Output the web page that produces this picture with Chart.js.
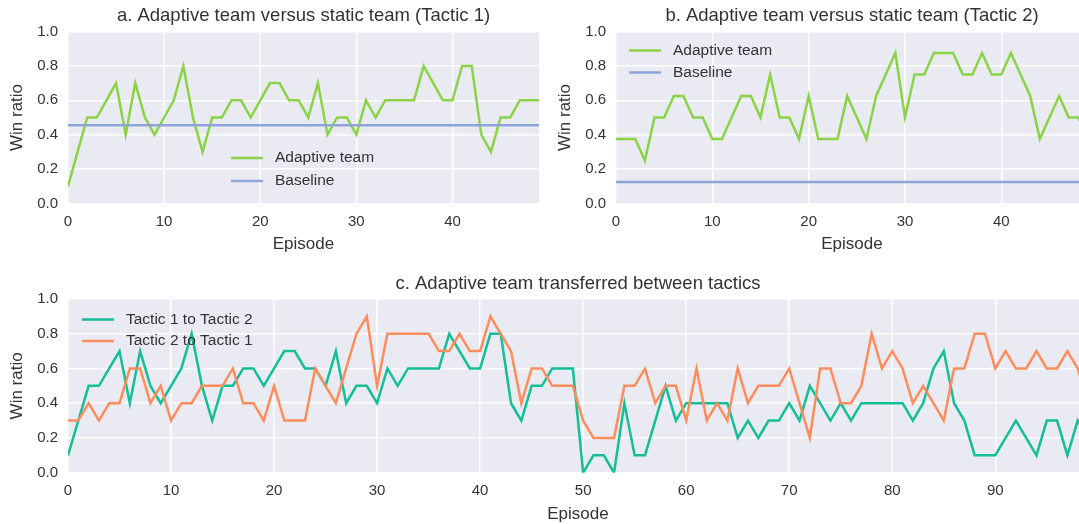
<!DOCTYPE html>
<html>
<head>
    <title>Adaptive team win ratio</title>
    <style>
        html, body { margin: 0; padding: 0; background: #fff; overflow: hidden; width: 1079px; height: 524px; }
        .panel { position: absolute; }
        #panel-a { left: 0; top: 0; width: 545px; height: 262px; }
        #panel-b { left: 548px; top: 0; width: 546px; height: 262px; }
        #panel-c { left: 0; top: 262px; width: 1094px; height: 270px; }
    </style>
</head>
<body>
    <div id="panel-a" class="panel"><canvas id="chart-a"></canvas></div>
    <div id="panel-b" class="panel"><canvas id="chart-b"></canvas></div>
    <div id="panel-c" class="panel"><canvas id="chart-c"></canvas></div>

    <script src="https://cdn.jsdelivr.net/npm/chart.js"></script>
    <script>
        // Data
        const yTicks = [0, 0.2, 0.4, 0.6, 0.8, 1.0];
        const xTicksShort = [0, 10, 20, 30, 40];
        const xTicksLong = [0, 10, 20, 30, 40, 50, 60, 70, 80, 90];

        // a. Tactic 1 (episodes 0-49)
        const tactic1Adaptive = [0.1, 0.3, 0.5, 0.5, 0.6, 0.7, 0.4, 0.7, 0.5, 0.4,
            0.5, 0.6, 0.8, 0.5, 0.3, 0.5, 0.5, 0.6, 0.6, 0.5,
            0.6, 0.7, 0.7, 0.6, 0.6, 0.5, 0.7, 0.4, 0.5, 0.5,
            0.4, 0.6, 0.5, 0.6, 0.6, 0.6, 0.6, 0.8, 0.7, 0.6,
            0.6, 0.8, 0.8, 0.4, 0.3, 0.5, 0.5, 0.6, 0.6, 0.6];
        const tactic1Baseline = 0.455;

        // b. Tactic 2 (episodes 0-49)
        const tactic2Adaptive = [0.375, 0.375, 0.375, 0.25, 0.5, 0.5, 0.625, 0.625, 0.5, 0.5,
            0.375, 0.375, 0.5, 0.625, 0.625, 0.5, 0.75, 0.5, 0.5, 0.375,
            0.625, 0.375, 0.375, 0.375, 0.625, 0.5, 0.375, 0.625, 0.75, 0.875,
            0.5, 0.75, 0.75, 0.875, 0.875, 0.875, 0.75, 0.75, 0.875, 0.75,
            0.75, 0.875, 0.75, 0.625, 0.375, 0.5, 0.625, 0.5, 0.5, 0.375];
        const tactic2Baseline = 0.125;

        // c. transfer between tactics (episodes 0-99)
        const tactic1To2 = [0.1, 0.3, 0.5, 0.5, 0.6, 0.7, 0.4, 0.7, 0.5, 0.4,
            0.5, 0.6, 0.8, 0.5, 0.3, 0.5, 0.5, 0.6, 0.6, 0.5,
            0.6, 0.7, 0.7, 0.6, 0.6, 0.5, 0.7, 0.4, 0.5, 0.5,
            0.4, 0.6, 0.5, 0.6, 0.6, 0.6, 0.6, 0.8, 0.7, 0.6,
            0.6, 0.8, 0.8, 0.4, 0.3, 0.5, 0.5, 0.6, 0.6, 0.6,
            0.0, 0.1, 0.1, 0.0, 0.4, 0.1, 0.1, 0.3, 0.5, 0.3,
            0.4, 0.4, 0.4, 0.4, 0.4, 0.2, 0.3, 0.2, 0.3, 0.3,
            0.4, 0.3, 0.5, 0.4, 0.3, 0.4, 0.3, 0.4, 0.4, 0.4,
            0.4, 0.4, 0.3, 0.4, 0.6, 0.7, 0.4, 0.3, 0.1, 0.1,
            0.1, 0.2, 0.3, 0.2, 0.1, 0.3, 0.3, 0.1, 0.3, 0.2];
        const tactic2To1 = [0.3, 0.3, 0.4, 0.3, 0.4, 0.4, 0.6, 0.6, 0.4, 0.5,
            0.3, 0.4, 0.4, 0.5, 0.5, 0.5, 0.6, 0.4, 0.4, 0.3,
            0.5, 0.3, 0.3, 0.3, 0.6, 0.5, 0.4, 0.6, 0.8, 0.9,
            0.5, 0.8, 0.8, 0.8, 0.8, 0.8, 0.7, 0.7, 0.8, 0.7,
            0.7, 0.9, 0.8, 0.7, 0.4, 0.6, 0.6, 0.5, 0.5, 0.5,
            0.3, 0.2, 0.2, 0.2, 0.5, 0.5, 0.6, 0.4, 0.5, 0.5,
            0.3, 0.6, 0.3, 0.4, 0.3, 0.6, 0.4, 0.5, 0.5, 0.5,
            0.6, 0.4, 0.2, 0.6, 0.6, 0.4, 0.4, 0.5, 0.8, 0.6,
            0.7, 0.6, 0.4, 0.5, 0.4, 0.3, 0.6, 0.6, 0.8, 0.8,
            0.6, 0.7, 0.6, 0.6, 0.7, 0.6, 0.6, 0.7, 0.6, 0.4];

        const GREEN = '#8bd346';
        const BLUE = '#8da5d6';
        const TEAL = '#14be98';
        const ORANGE = '#fc8d5c';
        const TEXT = '#333333';

        Chart.defaults.font.family = '"Liberation Sans", Arial, sans-serif';
        Chart.defaults.color = TEXT;

        // grey plot background, seaborn style
        const plotBackground = {
            id: 'plotBackground',
            beforeDraw(chart) {
                const { ctx, chartArea: a } = chart;
                ctx.save();
                ctx.fillStyle = '#eaeaf2';
                ctx.fillRect(a.left, a.top, a.width, a.height);
                ctx.restore();
            }
        };

        // legend drawn inside the plot area
        const insideLegend = {
            id: 'insideLegend',
            afterDatasetsDraw(chart, args, opts) {
                const { ctx, chartArea: a } = chart;
                ctx.save();
                ctx.font = '15.5px "Liberation Sans", Arial, sans-serif';
                ctx.textBaseline = 'middle';
                chart.data.datasets.forEach((ds, i) => {
                    const x = a.left + opts.left;
                    const y = a.top + opts.top + i * opts.rowGap;
                    ctx.strokeStyle = ds.borderColor;
                    ctx.lineWidth = ds.borderWidth;
                    ctx.beginPath();
                    ctx.moveTo(x, y);
                    ctx.lineTo(x + 32, y);
                    ctx.stroke();
                    ctx.fillStyle = TEXT;
                    ctx.fillText(ds.label, x + 44, y);
                });
                ctx.restore();
            }
        };

        const toPoints = values => values.map((v, i) => ({ x: i, y: v }));
        const flatLine = (value, lastEpisode) => [{ x: 0, y: value }, { x: lastEpisode, y: value }];

        function line(label, data, color, order) {
            return { label, data, borderColor: color, backgroundColor: color, borderWidth: 2.5,
                pointRadius: 0, tension: 0, order };
        }

        function makeOptions(cfg) {
            return {
                responsive: true,
                maintainAspectRatio: false,
                animation: false,
                layout: { padding: { right: 6 } },
                plugins: {
                    legend: { display: false },
                    tooltip: { enabled: false },
                    title: {
                        display: true, text: cfg.title, fullSize: false, color: TEXT,
                        font: { size: 18.5, weight: 'normal' },
                        padding: cfg.titlePadding
                    },
                    insideLegend: cfg.legend
                },
                scales: {
                    x: {
                        type: 'linear', min: 0, max: cfg.xMax,
                        afterBuildTicks: s => { s.ticks = cfg.xTicks.map(v => ({ value: v })); },
                        afterFit: s => { s.height = cfg.xAxisHeight; },
                        grid: { color: '#ffffff', lineWidth: 1.5, drawTicks: false },
                        border: { display: false },
                        ticks: { font: { size: 15 }, padding: 9, maxRotation: 0 },
                        title: { display: true, text: 'Episode', font: { size: 17 }, padding: { bottom: 7 } }
                    },
                    y: {
                        min: 0, max: 1,
                        afterBuildTicks: s => { s.ticks = yTicks.map(v => ({ value: v })); },
                        afterFit: s => { s.width = cfg.yAxisWidth; },
                        grid: { color: '#ffffff', lineWidth: 1.5, drawTicks: false },
                        border: { display: false },
                        ticks: { font: { size: 15 }, padding: 10, callback: v => v.toFixed(1) },
                        title: { display: true, text: 'Win ratio', font: { size: 17 }, padding: { top: 7 } }
                    }
                }
            };
        }

        // a. Tactic 1
        new Chart(document.getElementById('chart-a'), {
            type: 'line',
            data: { datasets: [
                line('Adaptive team', toPoints(tactic1Adaptive), GREEN, 2),
                line('Baseline', flatLine(tactic1Baseline, tactic1Adaptive.length - 1), BLUE, 1)
            ] },
            options: makeOptions({
                title: 'a. Adaptive team versus static team (Tactic 1)',
                titlePadding: { top: 4.9, bottom: 4.4 },
                xMax: tactic1Adaptive.length - 1, xTicks: xTicksShort,
                xAxisHeight: 58.5, yAxisWidth: 68,
                legend: { left: 163, top: 126.5, rowGap: 23 }
            }),
            plugins: [plotBackground, insideLegend]
        });

        // b. Tactic 2
        new Chart(document.getElementById('chart-b'), {
            type: 'line',
            data: { datasets: [
                line('Adaptive team', toPoints(tactic2Adaptive), GREEN, 2),
                line('Baseline', flatLine(tactic2Baseline, tactic2Adaptive.length - 1), BLUE, 1)
            ] },
            options: makeOptions({
                title: 'b. Adaptive team versus static team (Tactic 2)',
                titlePadding: { top: 4.9, bottom: 4.4 },
                xMax: tactic2Adaptive.length - 1, xTicks: xTicksShort,
                xAxisHeight: 58.5, yAxisWidth: 68,
                legend: { left: 13, top: 19, rowGap: 22 }
            }),
            plugins: [plotBackground, insideLegend]
        });

        // c. transfer
        new Chart(document.getElementById('chart-c'), {
            type: 'line',
            data: { datasets: [
                line('Tactic 1 to Tactic 2', toPoints(tactic1To2), TEAL, 2),
                line('Tactic 2 to Tactic 1', toPoints(tactic2To1), ORANGE, 1)
            ] },
            options: makeOptions({
                title: 'c. Adaptive team transferred between tactics',
                titlePadding: { top: 10.4, bottom: 4.4 },
                xMax: tactic1To2.length - 1, xTicks: xTicksLong,
                xAxisHeight: 59.3, yAxisWidth: 68,
                legend: { left: 14, top: 20.5, rowGap: 21.5 }
            }),
            plugins: [plotBackground, insideLegend]
        });
    </script>
</body>
</html>
